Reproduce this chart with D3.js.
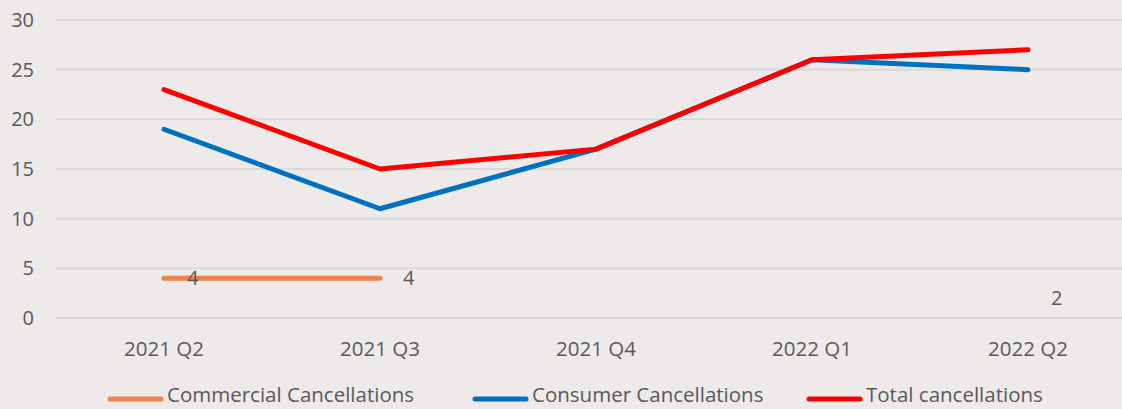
<!DOCTYPE html>
<html>
<head>
<meta charset="utf-8">
<script src="https://cdn.jsdelivr.net/npm/d3@7"></script>
<style>
  html, body { margin: 0; padding: 0; background: #EEEAEA; }
  svg { display: block; font-family: "Open Sans", sans-serif; }
  .tick-text { fill: #595959; font-size: 20px; }
  .cat-text { fill: #595959; font-size: 20.5px; }
  .legend-text { fill: #595959; font-size: 20.5px; }
</style>
</head>
<body>
<div id="chart"></div>
<script>
var categories = ["2021 Q2", "2021 Q3", "2021 Q4", "2022 Q1", "2022 Q2"];
var commercial = [4, 4, null, null, 2];
var consumer = [19, 11, 17, 26, 25];
var total = [23, 15, 17, 26, 27];
var yTicks = [0, 5, 10, 15, 20, 25, 30];

var series = [
    { name: "Commercial Cancellations", values: commercial, color: "#F0834C" },
    { name: "Consumer Cancellations", values: consumer, color: "#0070C0" },
    { name: "Total cancellations", values: total, color: "#FF0000" }
];

var width = 1122;
var height = 409;

var svg = d3.select("#chart").append("svg")
    .attr("width", width)
    .attr("height", height);

var x = d3.scaleBand()
    .domain(categories)
    .range([56, 1136]);

var y = d3.scaleLinear()
    .domain([0, 30])
    .range([318, 20]);

function cx(c) { return x(c) + x.bandwidth() / 2; }

// gridlines
svg.append("g")
    .selectAll("line")
    .data(yTicks)
    .join("line")
    .attr("x1", 56)
    .attr("x2", width)
    .attr("y1", d => y(d))
    .attr("y2", d => y(d))
    .style("stroke", "#DCD8D7")
    .style("stroke-width", "2px");

// y tick labels
svg.append("g")
    .selectAll("text")
    .data(yTicks)
    .join("text")
    .attr("class", "tick-text")
    .attr("x", 34)
    .attr("y", d => y(d))
    .attr("dy", "0.35em")
    .attr("text-anchor", "end")
    .text(d => d);

// x tick labels
svg.append("g")
    .selectAll("text")
    .data(categories)
    .join("text")
    .attr("class", "cat-text")
    .attr("x", d => cx(d))
    .attr("y", 349)
    .attr("dy", "0.35em")
    .attr("text-anchor", "middle")
    .text(d => d);

// split each series into runs of defined values, draw only runs of 2+ points
function runs(values) {
    var out = [], cur = [];
    values.forEach(function(v, i) {
        if (v == null) { if (cur.length) out.push(cur); cur = []; }
        else cur.push({ c: categories[i], v: v });
    });
    if (cur.length) out.push(cur);
    return out.filter(r => r.length > 1);
}

var line = d3.line()
    .x(d => cx(d.c))
    .y(d => y(d.v));

series.forEach(function(s) {
    runs(s.values).forEach(function(r) {
        svg.append("path")
            .attr("d", line(r))
            .style("fill", "none")
            .style("stroke", s.color)
            .style("stroke-width", "5px")
            .style("stroke-linecap", "round")
            .style("stroke-linejoin", "round");
    });
});

// data labels for commercial
svg.append("g")
    .selectAll("text")
    .data(commercial.map((v, i) => ({ v: v, c: categories[i] })).filter(d => d.v != null))
    .join("text")
    .attr("class", "tick-text")
    .attr("x", d => cx(d.c) + 23)
    .attr("y", d => y(d.v))
    .attr("dy", "0.35em")
    .text(d => d.v);

// legend
var legendX = [108, 473, 807];
var legend = svg.append("g");
series.forEach(function(s, i) {
    legend.append("line")
        .attr("x1", legendX[i] + 2)
        .attr("x2", legendX[i] + 53)
        .attr("y1", 399)
        .attr("y2", 399)
        .style("stroke", s.color)
        .style("stroke-width", "5px")
        .style("stroke-linecap", "round");
    legend.append("text")
        .attr("class", "legend-text")
        .attr("x", legendX[i] + 59)
        .attr("y", 402)
        .text(s.name);
});
</script>
</body>
</html>
